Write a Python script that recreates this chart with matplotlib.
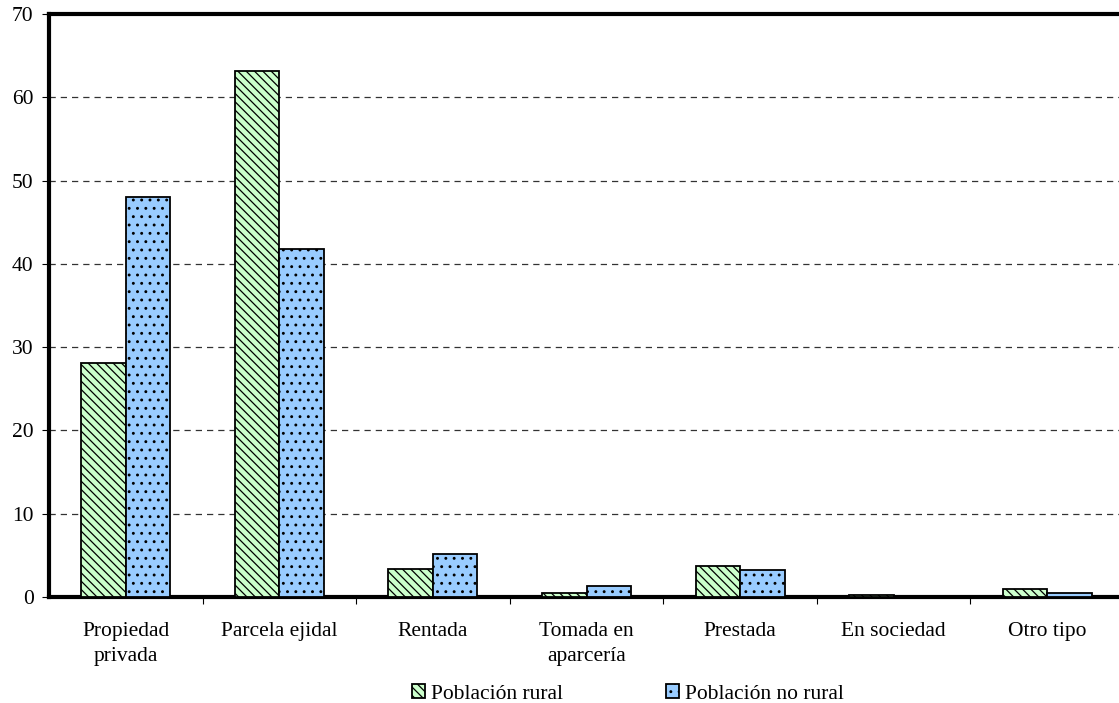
import numpy as np
import matplotlib.pyplot as plt

# tipo de tenencia de la tierra
categorias = ['Propiedad\nprivada', 'Parcela ejidal', 'Rentada',
              'Tomada en\naparcería', 'Prestada', 'En sociedad', 'Otro tipo']
rural = [28.1, 63.1, 3.4, 0.5, 3.7, 0.3, 0.95]
no_rural = [48.0, 41.8, 5.2, 1.3, 3.2, 0.05, 0.5]
series = ['Población rural', 'Población no rural']

plt.rcParams['font.family'] = ['Liberation Serif', 'DejaVu Serif']
plt.rcParams['hatch.linewidth'] = 0.9

fig = plt.figure(figsize=(11.19, 7.03), dpi=100)
ax = fig.add_axes([49 / 1119, 106 / 703, 1075 / 1119, 583 / 703])

x = np.arange(len(categorias))
w = 0.29
ax.bar(x - w / 2, rural, w, color='#ccffcc', edgecolor='black',
       hatch='\\\\\\\\', linewidth=1.3, label=series[0], zorder=3)
ax.bar(x + w / 2, no_rural, w, color='#99ccff', edgecolor='black',
       hatch='..', linewidth=1.3, label=series[1], zorder=3)

ax.set_xlim(-0.5, len(categorias) - 0.5)
ax.set_ylim(0, 70)
ax.set_yticks(np.arange(0, 71, 10))
ax.yaxis.grid(True, linestyle=(0, (5, 4)), color='#333333', linewidth=0.9)
ax.set_axisbelow(True)

ax.set_xticks(x)
ax.set_xticklabels(categorias, fontsize=15.5, linespacing=1.4,
                   va='top')
ax.tick_params(axis='x', which='major', length=0, pad=18)
ax.set_xticks(np.arange(0.5, len(categorias) - 0.5, 1), minor=True)
ax.tick_params(axis='x', which='minor', length=5, width=0.8)
ax.tick_params(axis='y', length=5, width=0.8, labelsize=15.5, pad=6)

for s in ['left', 'top', 'bottom']:
    ax.spines[s].set_linewidth(3)
ax.spines['right'].set_visible(False)

fig.legend(loc='center', bbox_to_anchor=(628 / 1119, 1 - 694 / 703),
           ncol=2, frameon=False, fontsize=15.5, handlelength=0.6,
           handleheight=0.6, handletextpad=0.28, columnspacing=4.8,
           borderpad=0)

fig.savefig('out.png', dpi=100)
